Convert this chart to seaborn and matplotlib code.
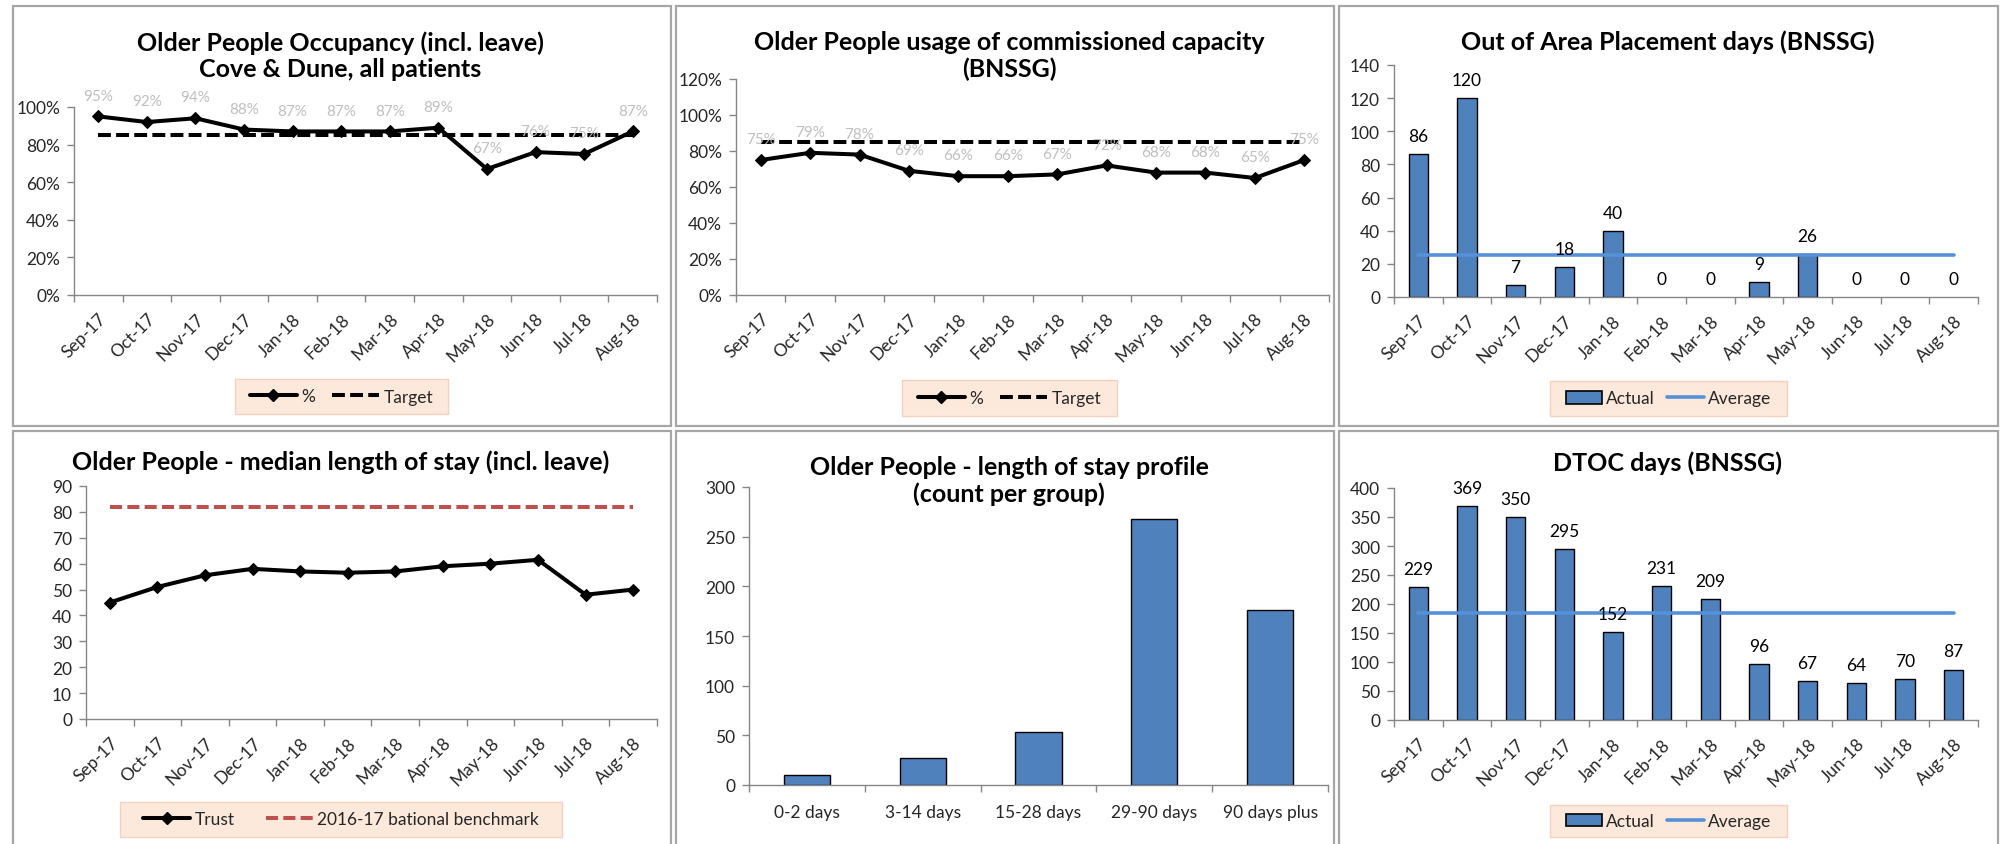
import numpy as np
import pandas as pd
import matplotlib
matplotlib.use("Agg")
import matplotlib.pyplot as plt
import seaborn as sns
from matplotlib.patches import Rectangle, Patch
from matplotlib.lines import Line2D
from matplotlib.ticker import FixedLocator, PercentFormatter

# ---- data -------------------------------------------------------------
months = ["Sep-17", "Oct-17", "Nov-17", "Dec-17", "Jan-18", "Feb-18",
          "Mar-18", "Apr-18", "May-18", "Jun-18", "Jul-18", "Aug-18"]
occupancy_pct = [95, 92, 94, 88, 87, 87, 87, 89, 67, 76, 75, 87]
occupancy_target = 85
capacity_pct = [75, 79, 78, 69, 66, 66, 67, 72, 68, 68, 65, 75]
capacity_target = 85
oap_days = [86, 120, 7, 18, 40, 0, 0, 9, 26, 0, 0, 0]
median_los = [45, 51, 55.5, 58, 57, 56.5, 57, 59, 60, 61.5, 48, 50]
los_benchmark = 82
los_groups = ["0-2 days", "3-14 days", "15-28 days", "29-90 days", "90 days plus"]
los_counts = [10, 27, 53, 268, 176]
dtoc_days = [229, 369, 350, 295, 152, 231, 209, 96, 67, 64, 70, 87]

# ---- style ------------------------------------------------------------
sns.set_style("white")
plt.rcParams["font.family"] = ["Lato", "DejaVu Sans"]

BAR = "#4F81BD"
AVG = "#5590D8"
RED = "#C0504D"
AXIS = "#868686"
BORDER = "#A6A6A6"
LEG_FILL = "#FDE9DC"
LEG_EDGE = "#F4D0C0"
GREY_LBL = "#BFBFBF"

TICK_FS = 12.5
TITLE_FS = 18
LEG_FS = 12.5
VAL_FS = 12.5
PCT_FS = 11

W, H = 2006, 845
fig = plt.figure(figsize=(W / 100, H / 100), dpi=100)
fig.patch.set_facecolor("white")


def px_axes(l, t, r, b):
    return fig.add_axes([l / W, 1 - b / H, (r - l) / W, (b - t) / H])


def fig_rect(l, t, r, b, **kw):
    fig.add_artist(Rectangle((l / W, 1 - b / H), (r - l) / W, (b - t) / H,
                             transform=fig.transFigure, **kw))


def fig_title(cx, cy, text):
    fig.text(cx / W, 1 - cy / H, text, ha="center", va="center",
             fontsize=TITLE_FS, fontweight="bold", color="black",
             linespacing=1.15)


def style_axis(ax, labels, ymax, ystep, rotate=True, pct=False):
    n = len(labels)
    ax.set_xlim(-0.5, n - 0.5)
    ax.set_ylim(0, ymax)
    ax.yaxis.set_major_locator(FixedLocator(np.arange(0, ymax + ystep / 2, ystep)))
    if pct:
        ax.yaxis.set_major_formatter(PercentFormatter(xmax=100, decimals=0))
    for s in ["top", "right"]:
        ax.spines[s].set_visible(False)
    for s in ["left", "bottom"]:
        ax.spines[s].set_color(AXIS)
        ax.spines[s].set_linewidth(1.0)
    ax.set_xticks(range(n))
    if rotate:
        ax.set_xticklabels(labels, rotation=45, ha="right",
                           rotation_mode="anchor", fontsize=TICK_FS)
    else:
        ax.set_xticklabels(labels, fontsize=TICK_FS)
    ax.set_xticks(np.arange(-0.5, n), minor=True)
    ax.tick_params(axis="x", which="major", length=0, pad=11 if rotate else 14)
    ax.tick_params(axis="x", which="minor", length=5, width=1, color=AXIS,
                   direction="out", bottom=True)
    ax.tick_params(axis="y", length=5, width=1, color=AXIS, direction="out",
                   left=True, labelsize=TICK_FS, pad=5)
    ax.set_xlabel("")
    ax.set_ylabel("")
    ax.grid(False)
    ax.set_facecolor("none")


def legend_box(l, t, r, b, handles, labels, hl=2.7, cs=1.0):
    fig_rect(l, t, r, b, facecolor=LEG_FILL, edgecolor=LEG_EDGE, lw=1.0, zorder=0)
    fig.legend(handles, labels, loc="center",
               bbox_to_anchor=((l + r) / 2 / W, 1 - (t + b) / 2 / H),
               bbox_transform=fig.transFigure, ncol=len(labels), frameon=False,
               fontsize=LEG_FS, handlelength=hl, handletextpad=0.25,
               columnspacing=cs, borderpad=0.0)


def hide_empty_bars(ax):
    for patch in ax.patches:
        if patch.get_height() == 0:
            patch.set_visible(False)


def line_with_labels(ax, values, target, fmt="{}%"):
    pos = np.arange(len(values))
    df = pd.DataFrame({"pos": pos, "value": values})
    sns.lineplot(data=df, x="pos", y="value", ax=ax, color="black",
                 linewidth=2.9, marker="D", markersize=6.5,
                 markeredgecolor="black", clip_on=False, zorder=4)
    sns.lineplot(x=pos, y=np.full(len(pos), target), ax=ax, color="black",
                 linewidth=2.9, dashes=(3.2, 1.3), zorder=3)
    for p, v in zip(pos, values):
        ax.annotate(fmt.format(v), (p, v), xytext=(0, 15),
                    textcoords="offset points", ha="center", va="center",
                    fontsize=PCT_FS, color=GREY_LBL, zorder=5)


def bars_with_average(ax, labels, values):
    df = pd.DataFrame({"cat": labels, "value": values})
    sns.barplot(data=df, x="cat", y="value", ax=ax, color=BAR, width=0.4,
                edgecolor="black", linewidth=1.0, saturation=1, zorder=2)
    hide_empty_bars(ax)
    avg = float(np.mean(values))
    pos = np.arange(len(values))
    sns.lineplot(x=pos, y=np.full(len(pos), avg), ax=ax, color=AVG,
                 linewidth=2.6, zorder=3)
    for p, v in zip(pos, values):
        ax.annotate(f"{v}", (p, v), xytext=(0, 13), textcoords="offset points",
                    ha="center", va="center", fontsize=VAL_FS, color="black",
                    zorder=5)


# ---- panel frames -------------------------------------------------------
for (l, t, r, b) in [(13, 7, 671, 427), (676, 7, 1334, 427), (1339, 7, 1998, 427),
                     (13, 432, 671, 852), (676, 432, 1334, 852), (1339, 432, 1998, 852)]:
    fig_rect(l, t, r, b, fill=False, edgecolor=BORDER, lw=1.6, zorder=0)

# ---- occupancy ----------------------------------------------------------
ax1 = px_axes(74, 108, 657, 296)
line_with_labels(ax1, occupancy_pct, occupancy_target)
style_axis(ax1, months, 100, 20, pct=True)
fig_title(340, 56, "Older People Occupancy (incl. leave)\nCove & Dune, all patients")
pct_handles = [Line2D([], [], color="black", lw=2.9, marker="D", markersize=6.5),
               Line2D([], [], color="black", lw=2.9, dashes=(3.2, 1.3))]
legend_box(235, 380, 448, 415, pct_handles, ["%", "Target"])

# ---- commissioned capacity ------------------------------------------------
ax2 = px_axes(736, 80, 1329, 296)
line_with_labels(ax2, capacity_pct, capacity_target)
style_axis(ax2, months, 120, 20, pct=True)
fig_title(1009, 56, "Older People usage of commissioned capacity\n(BNSSG)")
legend_box(902, 381, 1117, 417, pct_handles, ["%", "Target"])

# ---- out of area placements -----------------------------------------------
ax3 = px_axes(1394, 66, 1978, 298)
bars_with_average(ax3, months, oap_days)
style_axis(ax3, months, 140, 20)
fig_title(1668, 42, "Out of Area Placement days (BNSSG)")
bar_handles = [Patch(facecolor=BAR, edgecolor="black", lw=1.2),
               Line2D([], [], color=AVG, lw=2.6)]
legend_box(1550, 382, 1787, 417, bar_handles, ["Actual", "Average"], hl=2.1, cs=0.7)

# ---- median length of stay ---------------------------------------------------
ax4 = px_axes(86, 487, 657, 720)
pos = np.arange(len(median_los))
sns.lineplot(x=pos, y=median_los, ax=ax4, color="black", linewidth=2.9,
             marker="D", markersize=6.5, markeredgecolor="black", zorder=4)
sns.lineplot(x=pos, y=np.full(len(pos), los_benchmark), ax=ax4, color=RED,
             linewidth=2.9, dashes=(3.0, 1.3), zorder=3)
style_axis(ax4, months, 90, 10)
fig_title(341, 462, "Older People - median length of stay (incl. leave)")
los_handles = [Line2D([], [], color="black", lw=2.9, marker="D", markersize=6.5),
               Line2D([], [], color=RED, lw=2.9, dashes=(3.0, 1.3))]
legend_box(120, 803, 562, 838, los_handles, ["Trust", "2016-17 bational benchmark"],
           hl=2.7, cs=1.8)

# ---- length of stay profile ---------------------------------------------------
ax5 = px_axes(749, 488, 1328, 786)
sns.barplot(x=los_groups, y=los_counts, ax=ax5, color=BAR, width=0.4,
            edgecolor="black", linewidth=1.0, saturation=1, zorder=2)
style_axis(ax5, los_groups, 300, 50, rotate=False)
fig_title(1009, 481, "Older People - length of stay profile\n(count per group)")

# ---- DTOC ----------------------------------------------------------------------
ax6 = px_axes(1394, 489, 1978, 721)
bars_with_average(ax6, months, dtoc_days)
style_axis(ax6, months, 400, 50)
fig_title(1668, 463, "DTOC days (BNSSG)")
legend_box(1550, 806, 1787, 838, bar_handles, ["Actual", "Average"], hl=2.1, cs=0.7)

fig.savefig("out.png", dpi=100, facecolor="white")
